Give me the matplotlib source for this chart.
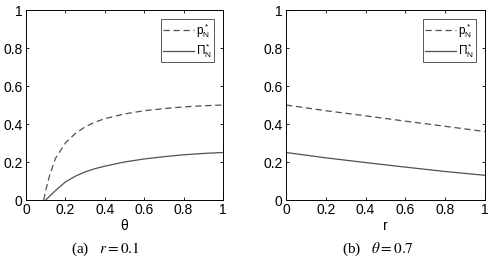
import numpy as np
import matplotlib.pyplot as plt

plt.rcParams['font.family'] = 'Liberation Sans'
plt.rcParams['mathtext.fontset'] = 'custom'
plt.rcParams['mathtext.rm'] = 'Liberation Sans'
plt.rcParams['mathtext.it'] = 'Liberation Sans'

# panel (a): r = 0.1
theta = [0.09, 0.1, 0.12, 0.15, 0.2, 0.25, 0.3, 0.35, 0.4, 0.5, 0.6, 0.7, 0.8, 0.9, 1.0]
p_a = [0.0, 0.05, 0.13, 0.22, 0.30, 0.35, 0.385, 0.41, 0.428, 0.453, 0.47, 0.481, 0.49, 0.496, 0.5]
theta_pi = [0.1, 0.12, 0.15, 0.2, 0.25, 0.3, 0.35, 0.4, 0.5, 0.6, 0.7, 0.8, 0.9, 1.0]
pi_a = [0.0, 0.02, 0.05, 0.095, 0.125, 0.148, 0.165, 0.178, 0.2, 0.216, 0.228, 0.238, 0.245, 0.25]

# panel (b): theta = 0.7
r = [0.0, 0.2, 0.4, 0.6, 0.8, 1.0]
p_b = [0.5, 0.47, 0.443, 0.415, 0.388, 0.36]
pi_b = [0.25, 0.222, 0.197, 0.173, 0.15, 0.13]

fig = plt.figure(figsize=(4.94, 2.62), dpi=100)
ax1 = fig.add_axes([26/494, 1 - 200/262, 197/494, 190/262])
ax2 = fig.add_axes([286/494, 1 - 200/262, 199/494, 190/262])

col = '#505050'
for ax, xs1, y1, xs2, y2, xl in [(ax1, theta, p_a, theta_pi, pi_a, 'θ'),
                                  (ax2, r, p_b, r, pi_b, 'r')]:
    ax.plot(xs1, y1, color=col, lw=0.9, dashes=(5, 3), label=r'$\mathregular{p^*_N}$')
    ax.plot(xs2, y2, '-', color=col, lw=0.9, label=r'$\mathregular{\Pi^*_N}$')
    ax.set_xlim(0, 1)
    ax.set_ylim(0, 1)
    ax.set_xticks([0, 0.2, 0.4, 0.6, 0.8, 1])
    ax.set_yticks([0, 0.2, 0.4, 0.6, 0.8, 1])
    ax.set_xticklabels(['0', '0.2', '0.4', '0.6', '0.8', '1'])
    ax.set_yticklabels(['0', '0.2', '0.4', '0.6', '0.8', '1'])
    ax.tick_params(direction='in', top=True, right=True, labelsize=10, length=2.5, width=0.6, pad=2.5)
    for s in ax.spines.values():
        s.set_linewidth(0.7)
    ax.set_xlabel(xl, fontsize=10, labelpad=1)
    leg = ax.legend(loc='upper right', fontsize=8.5, frameon=True, fancybox=False,
                    edgecolor='#303030', handlelength=2.6, handletextpad=0.2,
                    borderpad=0.15, labelspacing=0.15, borderaxespad=0.8)
    leg.get_frame().set_linewidth(0.7)

fig.text(105/494, 1 - 249/262, '(a)   $r = 0.1$', ha='center', va='center',
         fontsize=11, family='Liberation Serif', math_fontfamily='stix')
fig.text(378/494, 1 - 249/262, r'(b)   $\theta = 0.7$', ha='center', va='center',
         fontsize=11, family='Liberation Serif', math_fontfamily='stix')

fig.savefig('out.png', dpi=100)
